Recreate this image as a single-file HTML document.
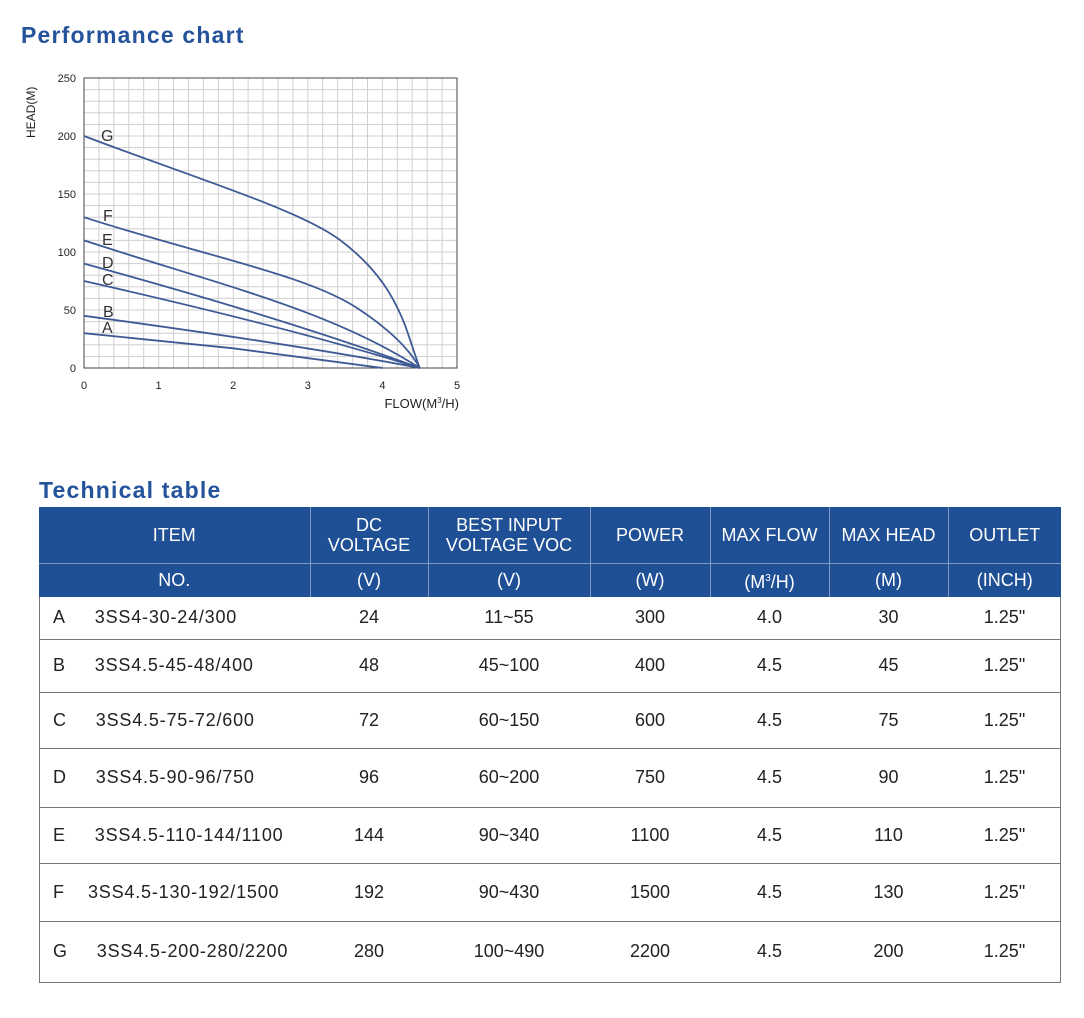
<!DOCTYPE html>
<html><head><style>
body{margin:0;width:1084px;height:1018px;background:#fff;font-family:"Liberation Sans",sans-serif;position:relative;overflow:hidden}
.t{position:absolute;color:#24539b;font-weight:bold;font-size:23px;letter-spacing:1.2px}
table{position:absolute;left:39px;top:507px;width:1022px;border-collapse:collapse;table-layout:fixed}
td{text-align:center;font-size:18px;color:#222;padding:0}
.h td{background:#1f4f95;color:#fff;border-left:1px solid #7f9cc8;font-size:18px;line-height:20px}
.h td:first-child{border-left:none}
.b td{border-bottom:1.5px solid #777}
.b td.n{text-align:left;padding-left:14px;letter-spacing:0.8px}
</style></head><body>
<div class="t" style="left:21px;top:22px">Performance chart</div>
<div class="t" style="left:39px;top:477px">Technical table</div>
<svg style="position:absolute;left:0;top:0" width="480" height="420" font-family="Liberation Sans" font-size="11">
<g stroke="#cfcfcf" stroke-width="1">
<path d="M98.9 78V368M113.8 78V368M128.8 78V368M143.7 78V368M158.6 78V368M173.5 78V368M188.4 78V368M203.4 78V368M218.3 78V368M233.2 78V368M248.1 78V368M263 78V368M278 78V368M292.9 78V368M307.8 78V368M322.7 78V368M337.6 78V368M352.6 78V368M367.5 78V368M382.4 78V368M397.3 78V368M412.2 78V368M427.2 78V368M442.1 78V368"/>
<path d="M84 89.6H457M84 101.2H457M84 112.8H457M84 124.4H457M84 136H457M84 147.6H457M84 159.2H457M84 170.8H457M84 182.4H457M84 194H457M84 205.6H457M84 217.2H457M84 228.8H457M84 240.4H457M84 252H457M84 263.6H457M84 275.2H457M84 286.8H457M84 298.4H457M84 310H457M84 321.6H457M84 333.2H457M84 344.8H457M84 356.4H457"/>
</g>
<rect x="84" y="78" width="373" height="290" fill="none" stroke="#444" stroke-width="1"/>
<g fill="#222" text-anchor="end">
<text x="76" y="82">250</text><text x="76" y="140">200</text><text x="76" y="198">150</text><text x="76" y="256">100</text><text x="76" y="314">50</text><text x="76" y="372">0</text></g>
<g fill="#222" text-anchor="middle">
<text x="84" y="389">0</text><text x="158.6" y="389">1</text><text x="233.2" y="389">2</text><text x="307.8" y="389">3</text><text x="382.4" y="389">4</text><text x="457" y="389">5</text></g>
<text x="459" y="408" text-anchor="end" font-size="13" fill="#222">FLOW(M<tspan font-size="8" dy="-5">3</tspan><tspan dy="5">/H)</tspan></text>
<text transform="translate(35,138) rotate(-90)" font-size="12" fill="#222">HEAD(M)</text>
<g fill="none" stroke="#3e5a95" stroke-width="1.8">
<path d="M84 333.2 L233.2 348.3 L382.4 368"/>
<path d="M84 315.8 Q300 345 419.7 368"/>
<path d="M84 281 Q300 330 419.7 368"/>
<path d="M84 263.6 Q290 320 419.7 368"/>
<path d="M84 240.4 C220 285 330 310 419.7 368"/>
<path d="M84 217.2 C200 255 310 275 360 310 C390 330 410 350 419.7 368"/>
<path d="M84 136 C200 180 300 210 340 240 C380 270 395 300 405 325 C412 345 416 358 419.7 368"/>
</g>
<g fill="#333" font-size="16">
<text x="101" y="141">G</text><text x="103" y="221">F</text><text x="102" y="245">E</text><text x="102" y="268">D</text><text x="102" y="285">C</text><text x="103" y="317">B</text><text x="102" y="333">A</text></g>
</svg>
<table>
<colgroup><col style="width:271px"><col style="width:118px"><col style="width:162px"><col style="width:120px"><col style="width:119px"><col style="width:119px"><col style="width:113px"></colgroup>
<tr class="h" style="height:56px"><td>ITEM</td><td>DC<br>VOLTAGE</td><td>BEST INPUT<br>VOLTAGE VOC</td><td>POWER</td><td>MAX FLOW</td><td>MAX HEAD</td><td>OUTLET</td></tr>
<tr class="h" style="height:34px"><td style="border-top:1px solid #7f9cc8">NO.</td><td style="border-top:1px solid #7f9cc8">(V)</td><td style="border-top:1px solid #7f9cc8">(V)</td><td style="border-top:1px solid #7f9cc8">(W)</td><td style="border-top:1px solid #7f9cc8">(M<sup style="font-size:10px">3</sup>/H)</td><td style="border-top:1px solid #7f9cc8">(M)</td><td style="border-top:1px solid #7f9cc8">(INCH)</td></tr>
<tr class="b" style="height:42px"><td class="n">A&nbsp;&nbsp;&nbsp;&nbsp;&nbsp;3SS4-30-24/300</td><td>24</td><td>11~55</td><td>300</td><td>4.0</td><td>30</td><td>1.25"</td></tr>
<tr class="b" style="height:53px"><td class="n">B&nbsp;&nbsp;&nbsp;&nbsp;&nbsp;3SS4.5-45-48/400</td><td>48</td><td>45~100</td><td>400</td><td>4.5</td><td>45</td><td>1.25"</td></tr>
<tr class="b" style="height:56px"><td class="n">C&nbsp;&nbsp;&nbsp;&nbsp;&nbsp;3SS4.5-75-72/600</td><td>72</td><td>60~150</td><td>600</td><td>4.5</td><td>75</td><td>1.25"</td></tr>
<tr class="b" style="height:59px"><td class="n">D&nbsp;&nbsp;&nbsp;&nbsp;&nbsp;3SS4.5-90-96/750</td><td>96</td><td>60~200</td><td>750</td><td>4.5</td><td>90</td><td>1.25"</td></tr>
<tr class="b" style="height:56px"><td class="n">E&nbsp;&nbsp;&nbsp;&nbsp;&nbsp;3SS4.5-110-144/1100</td><td>144</td><td>90~340</td><td>1100</td><td>4.5</td><td>110</td><td>1.25"</td></tr>
<tr class="b" style="height:58px"><td class="n">F&nbsp;&nbsp;&nbsp;&nbsp;3SS4.5-130-192/1500</td><td>192</td><td>90~430</td><td>1500</td><td>4.5</td><td>130</td><td>1.25"</td></tr>
<tr class="b" style="height:61px"><td class="n">G&nbsp;&nbsp;&nbsp;&nbsp;&nbsp;3SS4.5-200-280/2200</td><td>280</td><td>100~490</td><td>2200</td><td>4.5</td><td>200</td><td>1.25"</td></tr>
</table>
<div style="position:absolute;left:39px;top:597px;width:1px;height:386px;background:#777"></div>
<div style="position:absolute;left:1060px;top:597px;width:1px;height:386px;background:#777"></div>
</body></html>
